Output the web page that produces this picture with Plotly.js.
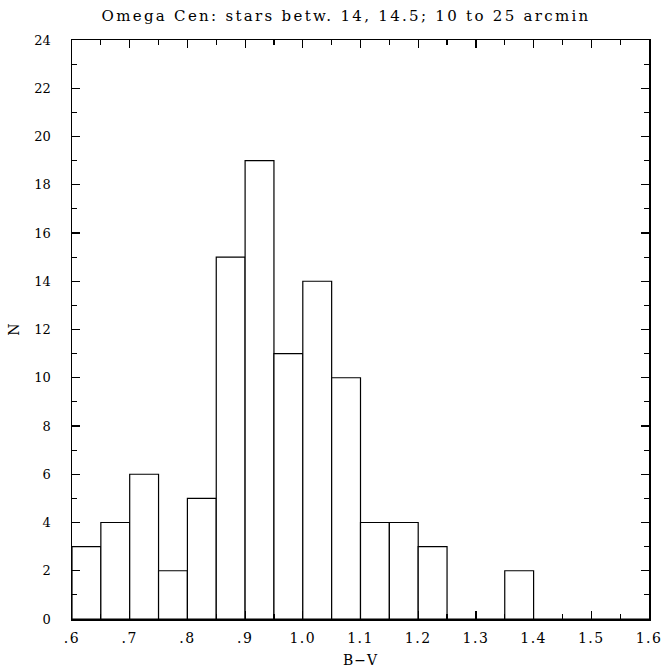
<!DOCTYPE html>
<html>
<head>
<meta charset="utf-8">
<script src="https://cdn.plot.ly/plotly-3.0.1.min.js"></script>
<style>
body{margin:0;background:#fff;}
#chart{width:663px;height:668px;}
#chart .gtitle{letter-spacing:2.3px;}
#chart .xtick text{letter-spacing:1.5px;}
#chart .g-xtitle text{letter-spacing:1px;}
</style>
</head>
<body>
<div id="chart"></div>
<script>
// Bin centers of B-V (bin width 0.05) and counts N
const binCenters = [0.625,0.675,0.725,0.775,0.825,0.875,0.925,0.975,1.025,1.075,1.125,1.175,1.225,1.275,1.325,1.375,1.425,1.475,1.525,1.575];
const counts     = [3,4,6,2,5,15,19,11,14,10,4,4,3,0,0,2,0,0,0,0];
const xTickVals  = [0.6,0.7,0.8,0.9,1.0,1.1,1.2,1.3,1.4,1.5,1.6];
const xTickText  = [".6",".7",".8",".9","1.0","1.1","1.2","1.3","1.4","1.5","1.6"];
const yTickVals  = [0,2,4,6,8,10,12,14,16,18,20,22,24];

const fam = "DejaVu Serif, Liberation Serif, serif";
const font = {family: fam, size: 14, color: "#000"};

const trace = {
  type: "bar",
  x: binCenters,
  y: counts,
  width: 0.05,
  marker: {color: "#fff", line: {color: "#000", width: 1.2}},
  hoverinfo: "none"
};

const layout = {
  width: 663, height: 668,
  margin: {l: 72, r: 14, t: 40, b: 49},
  paper_bgcolor: "#fff", plot_bgcolor: "#fff",
  font: font,
  showlegend: false,
  bargap: 0,
  title: {text: "Omega Cen: stars betw. 14, 14.5; 10 to 25 arcmin",
          font: {family: fam, size: 15, color: "#000"},
          xref: "container", x: 0.522, xanchor: "center",
          yref: "container", y: 0.976, yanchor: "middle"},
  xaxis: {
    range: [0.6, 1.6], tickmode: "array", tickvals: xTickVals, ticktext: xTickText,
    ticks: "inside", ticklen: 8, tickwidth: 1.2, tickcolor: "#000",
    minor: {tickmode: "linear", tick0: 0.6, dtick: 0.05, ticks: "inside", ticklen: 5, tickwidth: 1.2, tickcolor: "#000", showgrid: false},
    showline: true, linecolor: "#000", linewidth: 1.5, mirror: "ticks",
    showgrid: false, zeroline: false,
    title: {text: "B\u2212V", font: font, standoff: 10},
    tickfont: font, ticklabelstandoff: 6
  },
  yaxis: {
    range: [0, 24], tickmode: "array", tickvals: yTickVals,
    ticks: "inside", ticklen: 8, tickwidth: 1.2, tickcolor: "#000",
    minor: {tickmode: "linear", tick0: 0, dtick: 1, ticks: "inside", ticklen: 5, tickwidth: 1.2, tickcolor: "#000", showgrid: false},
    showline: true, linecolor: "#000", linewidth: 1.5, mirror: "ticks",
    showgrid: false, zeroline: false,
    title: {text: "N", font: font, standoff: 11},
    tickfont: {family: fam, size: 13, color: "#000"}, ticklabelstandoff: 17
  }
};

Plotly.newPlot("chart", [trace], layout, {displayModeBar: false, staticPlot: true});
</script>
</body>
</html>
